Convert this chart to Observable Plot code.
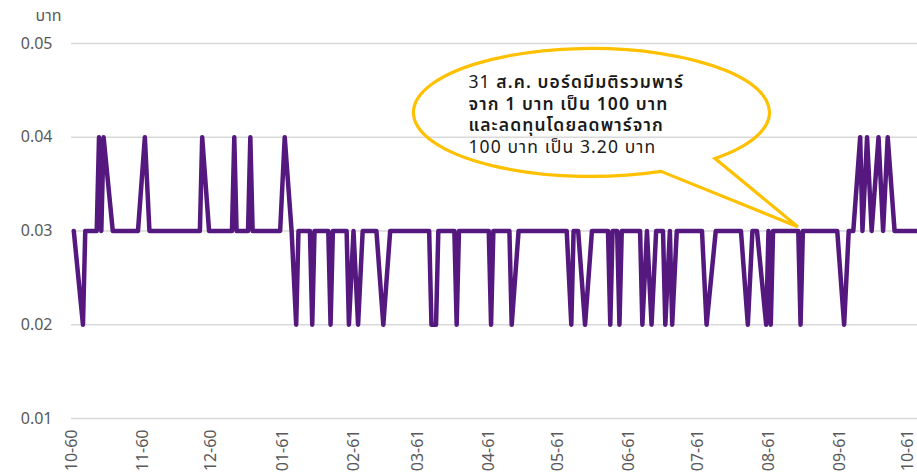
<!DOCTYPE html>
<html><head><meta charset="utf-8">
<script src="https://cdn.jsdelivr.net/npm/d3@7"></script>
<script src="https://cdn.jsdelivr.net/npm/@observablehq/plot@0.6"></script>
<style>
body{margin:0;background:#fff;}
#chart{position:relative;width:917px;height:475px;overflow:hidden;}
</style></head><body><div id="chart"></div>
<script>
// Vertices of the daily closing-price line (date, price in baht)
const dates = [
 "2017-10-02","2017-10-06","2017-10-07","2017-10-12","2017-10-13","2017-10-14","2017-10-15","2017-10-19",
 "2017-10-30","2017-11-02","2017-11-04","2017-11-26","2017-11-27","2017-11-30",
 "2017-12-10","2017-12-11","2017-12-12","2017-12-17","2017-12-18","2017-12-19","2017-12-31",
 "2018-01-02","2018-01-05","2018-01-07","2018-01-08","2018-01-13","2018-01-14","2018-01-15",
 "2018-01-21","2018-01-22","2018-01-23","2018-01-29","2018-01-30","2018-02-01","2018-02-03","2018-02-05",
 "2018-02-11","2018-02-14","2018-02-17","2018-03-06","2018-03-07","2018-03-09","2018-03-10",
 "2018-03-17","2018-03-18","2018-03-19","2018-04-01","2018-04-02","2018-04-03",
 "2018-04-10","2018-04-11","2018-04-14","2018-05-05","2018-05-07","2018-05-08",
 "2018-05-10","2018-05-13","2018-05-16","2018-05-23","2018-05-24","2018-05-25",
 "2018-05-27","2018-05-28","2018-05-29","2018-06-06","2018-06-07","2018-06-09","2018-06-11","2018-06-13",
 "2018-06-16","2018-06-17","2018-06-19","2018-06-20","2018-06-22","2018-07-03","2018-07-05","2018-07-09",
 "2018-07-20","2018-07-23","2018-07-25","2018-07-27","2018-07-31","2018-08-01","2018-08-02","2018-08-03",
 "2018-08-14","2018-08-15","2018-08-16","2018-08-31","2018-09-03","2018-09-05",
 "2018-09-07","2018-09-10","2018-09-11","2018-09-13","2018-09-15","2018-09-18","2018-09-20","2018-09-22","2018-09-25",
 "2018-10-05"
];
const prices = [
 0.03,0.02,0.03,0.03,0.04,0.03,0.04,0.03,
 0.03,0.04,0.03,0.03,0.04,0.03,
 0.03,0.04,0.03,0.03,0.04,0.03,0.03,
 0.04,0.03,0.02,0.03,0.03,0.02,0.03,
 0.03,0.02,0.03,0.03,0.02,0.03,0.02,0.03,
 0.03,0.02,0.03,0.03,0.02,0.02,0.03,
 0.03,0.02,0.03,0.03,0.02,0.03,
 0.03,0.02,0.03,0.03,0.02,0.03,
 0.03,0.02,0.03,0.03,0.02,0.03,
 0.03,0.02,0.03,0.03,0.02,0.03,0.02,0.03,
 0.03,0.02,0.03,0.02,0.03,0.03,0.02,0.03,
 0.03,0.02,0.03,0.03,0.02,0.03,0.02,0.03,
 0.03,0.02,0.03,0.03,0.02,0.03,
 0.03,0.04,0.03,0.04,0.03,0.04,0.03,0.04,0.03,
 0.03
];
const tickDates = ["2017-10-01","2017-11-01","2017-12-01","2018-01-01","2018-02-01","2018-03-01","2018-04-01",
 "2018-05-01","2018-06-01","2018-07-01","2018-08-01","2018-09-01","2018-10-01"];
const tickLabels = ["10-60","11-60","12-60","01-61","02-61","03-61","04-61","05-61","06-61","07-61","08-61","09-61","10-61"];
const yTicks = [0.01,0.02,0.03,0.04,0.05];
const yUnit = "บาท";
const calloutLines = [
 [["31 ","normal"],["ส.ค. บอร์ดมีมติรวมพาร์","bold"]],
 [["จาก 1 บาท เป็น 100 บาท","bold"]],
 [["และลดทุนโดยลดพาร์จาก","bold"]],
 [["100 บาท เป็น 3.20 บาท","normal"]]
];
const calloutCenter = {date:"2018-05-16", price:0.04259};
const calloutTip = {date:"2018-08-14", price:0.0304};

const parse = s => new Date(s + "T00:00:00Z");
const data = dates.map((d,i) => ({date: parse(d), price: prices[i]}));
const labelOf = new Map(tickDates.map((d,i) => [parse(d).getTime(), tickLabels[i]]));
const FONT = "'Noto Sans Thai','Noto Sans','Liberation Sans',sans-serif";

function callout(index, {x, y}) {
  const cx = x(parse(calloutCenter.date)), cy = y(calloutCenter.price);
  const tx = x(parse(calloutTip.date)), ty = y(calloutTip.price);
  const rx = 178, ry = 64;
  const a1 = 46*Math.PI/180, a2 = 67*Math.PI/180;
  const p1 = [cx + rx*Math.cos(a1), cy + ry*Math.sin(a1)];
  const p2 = [cx + rx*Math.cos(a2), cy + ry*Math.sin(a2)];
  const g = d3.create("svg:g");
  g.append("path")
    .attr("d", `M${p2}L${tx},${ty}L${p1}A${rx},${ry} 0 1 0 ${p2}Z`)
    .attr("fill", "none").attr("stroke", "#ffc000").attr("stroke-width", 3.2)
    .attr("stroke-linejoin", "miter");
  const t = g.append("text").attr("font-family", FONT).attr("font-size", 17.5)
    .attr("letter-spacing", "1.1px").attr("text-anchor", "start").attr("fill", "#1a1a1a");
  calloutLines.forEach((line, i) => {
    line.forEach(([s, w], j) => {
      const ts = t.append("tspan").attr("font-weight", w === "bold" ? 600 : 400).text(s);
      if (j === 0) ts.attr("x", cx - 123).attr("y", cy - 24 + i*21.5);
    });
  });
  return g.node();
}

const chart = Plot.plot({
  width: 917, height: 475,
  marginTop: 43, marginBottom: 57, marginLeft: 71, marginRight: 0,
  style: {fontFamily: FONT, fontSize: "16px", color: "#595959", background: "#fff", overflow: "visible"},
  x: {type: "utc", domain: [parse("2017-10-01"), parse("2018-10-05")], ticks: tickDates.map(parse),
      tickFormat: d => labelOf.get(d.getTime()), tickRotate: -90, tickSize: 0, tickPadding: 11, label: null},
  y: {domain: [0.01, 0.05], ticks: yTicks, tickFormat: d => d.toFixed(2), tickSize: 0, tickPadding: 19, label: null},
  marks: [
    Plot.gridY(yTicks, {stroke: "#d9d9d9", strokeOpacity: 1, strokeWidth: 1.4}),
    Plot.line(data, {x: "date", y: "price", stroke: "#54187e", strokeWidth: 4.5,
      strokeLinejoin: "round", strokeLinecap: "round"}),
    Plot.text([yUnit], {frameAnchor: "top-left", dx: -36, dy: -34, textAnchor: "start",
      fill: "#595959", fontSize: 16}),
    callout
  ]
});
document.getElementById("chart").append(chart);
</script></body></html>
